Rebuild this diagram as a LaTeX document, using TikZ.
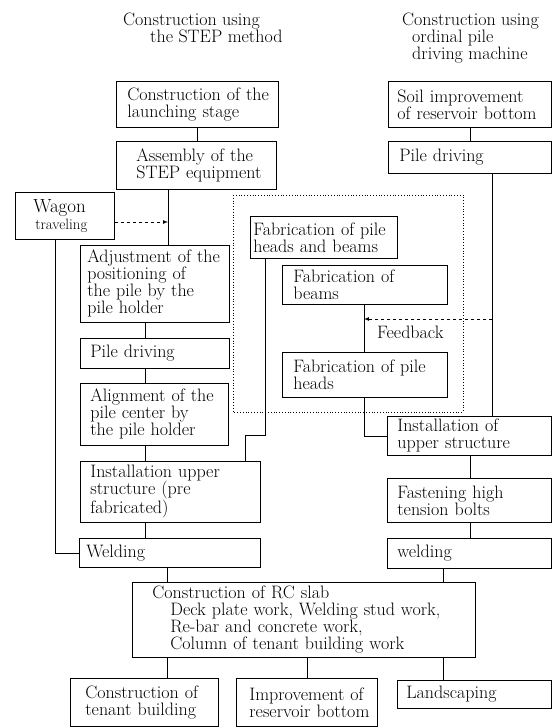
\documentclass[tikz,border=0pt]{standalone}
\newcommand{\stepfont}{\fontsize{18}{17}\selectfont}
\tikzset{
  stepbox/.style={draw, line width=0.7pt, anchor=north west, align=left, inner sep=0pt, font=\stepfont},
  lpad/.style={execute at begin node={\leftskip=#1pt\relax\rightskip=0pt plus 1fil minus 100pt\relax}},
  link/.style={line width=0.7pt},
  headtext/.style={anchor=north west, align=left, inner sep=0pt, font=\stepfont},
}
\begin{document}
\begin{tikzpicture}[x=1pt, y=-1pt]
\useasboundingbox (0,0) rectangle (554,727);
% headings
\node[headtext] (hdL) at (123,13) {Construction using\\\hspace*{27pt}the STEP method};
\node[headtext] (hdR) at (402,13) {Construction using\\\hspace*{10pt}ordinal pile\\\hspace*{10pt}driving machine};
% STEP method column
\node[stepbox, lpad=11, text width=162pt, minimum height=46pt] (launch) at (116,81) {Construction of the\\launching stage};
\node[stepbox, lpad=20, text width=160pt, minimum height=48pt] (assembly) at (116,141) {Assembly of the\\STEP equipment};
\node[stepbox, lpad=18, text width=99pt, minimum height=47pt] (wagon) at (15,192) {{\fontsize{19}{19}\selectfont Wagon}\\\hspace*{2pt}{\fontsize{15}{14}\selectfont traveling}};
\node[stepbox, lpad=7, text width=149pt, minimum height=77pt] (adjust) at (80,245) {Adjustment of the\\positioning of\\the pile by the\\pile holder};
\node[stepbox, lpad=10, text width=149pt, minimum height=30pt] (pileL) at (80,338) {Pile driving};
\node[stepbox, lpad=10, text width=148pt, minimum height=62pt] (align) at (80,383) {Alignment of the\\pile center by\\the pile holder};
\node[stepbox, lpad=10, text width=180pt, minimum height=61pt] (instP) at (80,461) {Installation upper\\structure (pre\\fabricated)};
\node[stepbox, lpad=7, text width=181pt, minimum height=29pt] (weldL) at (79,538) {Welding};
% fabrication group
\draw[dotted, line width=0.8pt] (233,195) rectangle (463,412);
\node[stepbox, lpad=3, text width=147pt, minimum height=42pt] (fabHB) at (250,216) {Fabrication of pile\\heads and beams};
\node[stepbox, lpad=11, text width=165pt, minimum height=39pt] (beams) at (282,265) {Fabrication of\\beams};
\node[stepbox, lpad=11, text width=165pt, minimum height=45pt] (heads) at (282,352) {Fabrication of pile\\heads};
\node[headtext] (fbtext) at (377,326) {Feedback};
% ordinal pile driving column
\node[stepbox, lpad=9, text width=163pt, minimum height=46pt] (soil) at (388,81) {Soil improvement\\of reservoir bottom};
\node[stepbox, lpad=11, text width=163pt, minimum height=32pt] (pileR) at (388,141) {Pile driving};
\node[stepbox, lpad=10, text width=164pt, minimum height=39pt] (instU) at (387,416) {Installation of\\upper structure};
\node[stepbox, lpad=10, text width=164pt, minimum height=44pt] (fasten) at (387,478) {Fastening high\\tension bolts};
\node[stepbox, lpad=10, text width=164pt, minimum height=30pt] (weldR) at (387,538) {welding};
% common part
\node[stepbox, lpad=20, text width=343pt, minimum height=75pt] (rc) at (132,582) {Construction of RC slab\\\hspace*{18pt}Deck plate work, Welding stud work,\\\hspace*{18pt}Re-bar and concrete work,\\\hspace*{18pt}Column of tenant building work};
\node[stepbox, lpad=15, text width=148pt, minimum height=48pt] (tenant) at (70,678) {Construction of\\tenant building};
\node[stepbox, lpad=13, text width=141pt, minimum height=48pt] (improve) at (236,678) {Improvement of\\reservoir bottom};
\node[stepbox, lpad=9, text width=154pt, minimum height=28pt] (landscape) at (397,680) {Landscaping};
% connector columns
\coordinate (jA) at (168,222);
\coordinate (cL) at (145,0);
\coordinate (cW) at (167,0);
\coordinate (cR) at (443,0);
\coordinate (cM) at (470,0);
\coordinate (cV) at (492,0);
\coordinate (cF) at (364,0);
\coordinate (fbA) at (492,319);
\coordinate (fbB) at (364,319);
\coordinate (bendH) at (265,435);
\coordinate (bendP) at (245,435);
% connectors
\draw[link] (launch.south) -- (launch.south |- assembly.north);
\draw[link] (assembly.south -| jA) -- (adjust.north -| jA);
\draw[link, dashed, -latex] (wagon.east |- jA) -- (jA);
\draw[link] ([xshift=-10pt]wagon.south) |- (weldL.west);
\draw[link] (adjust.south -| cL) -- (pileL.north -| cL);
\draw[link] (pileL.south -| cL) -- (align.north -| cL);
\draw[link] (align.south -| cL) -- (instP.north -| cL);
\draw[link] (instP.south -| cL) -- (weldL.north -| cL);
\draw[link] (weldL.south -| cW) -- (rc.north -| cW);
\draw[link] (fabHB.south -| bendH) -- (bendH) -- (bendP) -- (instP.north -| bendP);
\draw[link] (beams.south -| cF) -- (heads.north -| cF);
\draw[link] (heads.south -| cF) |- (instU.west);
\draw[link, dashed, -latex] (fbA) -- (fbB);
\draw[link] (soil.south -| cM) -- (pileR.north -| cM);
\draw[link] (pileR.south -| cV) -- (instU.north -| cV);
\draw[link] (instU.south -| cM) -- (fasten.north -| cM);
\draw[link] (fasten.south -| cM) -- (weldR.north -| cM);
\draw[link] (weldR.south -| cR) -- (rc.north -| cR);
\draw[link] (rc.south -| cW) -- (tenant.north -| cW);
\draw[link] (rc.south -| improve.north) -- (improve.north);
\draw[link] (rc.south -| cR) -- (landscape.north -| cR);
\end{tikzpicture}
\end{document}
